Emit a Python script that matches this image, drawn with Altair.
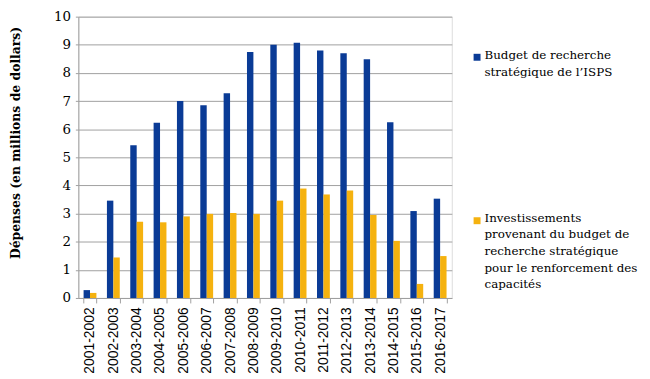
import altair as alt
import pandas as pd

years = ["2001-2002", "2002-2003", "2003-2004", "2004-2005", "2005-2006", "2006-2007",
         "2007-2008", "2008-2009", "2009-2010", "2010-2011", "2011-2012", "2012-2013",
         "2013-2014", "2014-2015", "2015-2016", "2016-2017"]
budget = [0.28, 3.46, 5.43, 6.23, 7.00, 6.85, 7.28, 8.74, 9.00, 9.07, 8.80, 8.70, 8.49, 6.25, 3.09, 3.53]
invest = [0.18, 1.44, 2.71, 2.69, 2.90, 2.99, 3.02, 2.99, 3.46, 3.89, 3.68, 3.82, 2.95, 2.03, 0.50, 1.49]
y_ticks = [0, 1, 2, 3, 4, 5, 6, 7, 8, 9, 10]
series = ["Budget de recherche stratégique de l’ISPS",
          "Investissements provenant du budget de recherche stratégique pour le renforcement des capacités"]
series_lines = [["Budget de recherche", "stratégique de l’ISPS"],
                ["Investissements", "provenant du budget de", "recherche stratégique",
                 "pour le renforcement des", "capacités"]]
colors = ["#0A3B96", "#F5B20F"]

rows = []
for i, y in enumerate(years):
    rows.append({"year": y, "series": series[0], "value": budget[i]})
    rows.append({"year": y, "series": series[1], "value": invest[i]})
df = pd.DataFrame(rows)

SERIF = "DejaVu Serif"
SANS = "Liberation Sans"
H = 284

bars = alt.Chart(df).mark_bar().encode(
    x=alt.X("year:N", sort=years,
            scale=alt.Scale(paddingInner=0.45, paddingOuter=0.225),
            axis=alt.Axis(title=None, labelAngle=-90, labelFont=SANS, labelFontSize=14,
                          labelColor="#000000", labelPadding=4, tickBand="extent",
                          tickSize=5, tickColor="#A0A0A0", domainColor="#A0A0A0",
                          labelAlign="right", labelBaseline="middle")),
    xOffset=alt.XOffset("series:N", sort=series, scale=alt.Scale(paddingInner=0, paddingOuter=0)),
    y=alt.Y("value:Q", scale=alt.Scale(domain=[0, 10], nice=False),
            axis=alt.Axis(title="Dépenses (en millions de dollars)",
                          values=y_ticks, labelOverlap=False,
                          titleFont=SERIF, titleFontSize=12.5, titleFontWeight="bold",
                          titleColor="#000000", titleAngle=-90, titleX=-63, titleY=127,
                          titleAlign="center", titleBaseline="middle",
                          labelFont=SERIF, labelFontSize=13.5, labelColor="#000000",
                          labelPadding=5, tickSize=3, tickColor="#A0A0A0",
                          domainColor="#A0A0A0", gridColor="#A0A0A0", grid=True)),
    color=alt.Color("series:N", sort=series,
                    scale=alt.Scale(domain=series, range=colors), legend=None),
)

legend_layers = []
sq_y = [41, 206]
tx_y = [34, 198]
for i in range(2):
    ld = pd.DataFrame({"series": [series[i]], "label": ["\n".join(series_lines[i])]})
    sq = alt.Chart(ld).mark_square(size=49, opacity=1, color=colors[i]).encode(
        x=alt.value(402.5), y=alt.value(sq_y[i]))
    tx = alt.Chart(ld).mark_text(align="left", baseline="top", font=SERIF, fontSize=12,
                                 lineBreak="\n", lineHeight=16.8, color="#000000").encode(
        x=alt.value(410), y=alt.value(tx_y[i]), text="label:N")
    legend_layers += [sq, tx]

chart = alt.layer(bars, *legend_layers).properties(
    width=377, height=H,
    autosize=alt.AutoSizeParams(type="none"),
    padding={"left": 71, "top": 7, "right": 192, "bottom": 75},
).configure_view(stroke=None).configure(background="#FFFFFF")

chart.save("out.html", embed_options={"renderer": "svg", "actions": False})
